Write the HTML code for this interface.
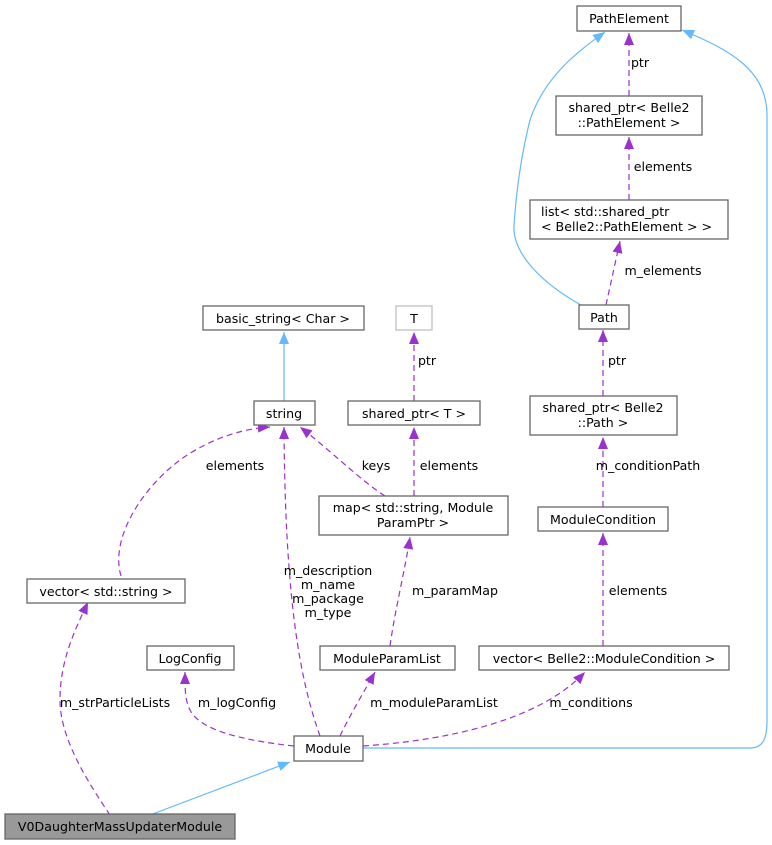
<!DOCTYPE html>
<html><head><meta charset="utf-8"><style>
html,body{margin:0;padding:0;background:#fff;}
svg{display:block;}
text{font-family:"DejaVu Sans","Liberation Sans",sans-serif;font-size:12.6px;fill:#000;}
.n{fill:#fff;stroke:#666;stroke-width:1.3;}
.p{fill:none;stroke:#9a32cd;stroke-width:1.2;stroke-dasharray:6,4;}
.b{fill:none;stroke:#63b8ff;stroke-width:1.2;}
</style></head><body>
<svg width="772" height="845" viewBox="0 0 772 845" xmlns="http://www.w3.org/2000/svg">
<defs>
<marker id="ap" viewBox="0 0 12 10" refX="12" refY="5" markerWidth="12" markerHeight="10" markerUnits="userSpaceOnUse" orient="auto"><path d="M0,0 L12,5 L0,10 z" fill="#9a32cd"/></marker>
<marker id="ab" viewBox="0 0 12 10" refX="12" refY="5" markerWidth="12" markerHeight="10" markerUnits="userSpaceOnUse" orient="auto"><path d="M0,0 L12,5 L0,10 z" fill="#63b8ff"/></marker>
</defs>

<!-- edges -->
<path class="b" marker-end="url(#ab)" d="M150,815 L290,762"/>
<path class="p" marker-end="url(#ap)" d="M110,815 C90,785 60,740 60,700 C60,660 75,630 88,602"/>
<path class="p" marker-end="url(#ap)" d="M294,746 C240,740 200,730 190,710 C185,700 185,690 185,672"/>
<path class="p" marker-end="url(#ap)" d="M320,736 C300,680 285,600 284,427"/>
<path class="p" marker-end="url(#ap)" d="M340,736 C350,715 365,690 375,672"/>
<path class="p" marker-end="url(#ap)" d="M363,746 C450,740 540,720 585,672"/>
<path class="b" marker-end="url(#ab)" d="M363,748 L750,748 C765,748 767,735 767,720 L767,115 C767,70 730,50 682,30"/>
<path class="p" marker-end="url(#ap)" d="M390,646 C395,610 405,570 410,537"/>
<path class="p" marker-end="url(#ap)" d="M385,496 C360,480 330,450 300,427"/>
<path class="p" marker-end="url(#ap)" d="M414,496 L414,427"/>
<path class="p" marker-end="url(#ap)" d="M414,401 L414,332"/>
<path class="b" marker-end="url(#ab)" d="M284,401 L284,332"/>
<path class="p" marker-end="url(#ap)" d="M121,576 C110,540 140,490 180,460 C215,435 250,428 270,427"/>
<path class="p" marker-end="url(#ap)" d="M603,646 L603,533"/>
<path class="p" marker-end="url(#ap)" d="M603,507 L603,437"/>
<path class="p" marker-end="url(#ap)" d="M603,396 L603,330"/>
<path class="p" marker-end="url(#ap)" d="M606,305 L620,241"/>
<path class="p" marker-end="url(#ap)" d="M629,200 L629,137"/>
<path class="p" marker-end="url(#ap)" d="M629,96 L629,33"/>
<path class="b" marker-end="url(#ab)" d="M581,305 C545,285 512,255 514,225 C516,195 520,160 530,120 C545,75 580,50 605,32"/>

<!-- edge labels -->
<text x="115" y="707" text-anchor="middle">m_strParticleLists</text>
<text x="237" y="707" text-anchor="middle">m_logConfig</text>
<text x="328" y="575" text-anchor="middle">m_description</text>
<text x="328" y="589" text-anchor="middle">m_name</text>
<text x="328" y="603" text-anchor="middle">m_package</text>
<text x="328" y="617" text-anchor="middle">m_type</text>
<text x="434" y="707" text-anchor="middle">m_moduleParamList</text>
<text x="591" y="707" text-anchor="middle">m_conditions</text>
<text x="455" y="595" text-anchor="middle">m_paramMap</text>
<text x="376" y="470" text-anchor="middle">keys</text>
<text x="449" y="470" text-anchor="middle">elements</text>
<text x="427" y="365" text-anchor="middle">ptr</text>
<text x="235" y="470" text-anchor="middle">elements</text>
<text x="638" y="595" text-anchor="middle">elements</text>
<text x="648" y="470" text-anchor="middle">m_conditionPath</text>
<text x="617" y="365" text-anchor="middle">ptr</text>
<text x="663" y="275" text-anchor="middle">m_elements</text>
<text x="663" y="171" text-anchor="middle">elements</text>
<text x="640" y="67" text-anchor="middle">ptr</text>

<!-- nodes -->
<rect class="n" x="577" y="6" width="104" height="25"/><text x="629" y="23" text-anchor="middle">PathElement</text>
<rect class="n" x="556" y="96" width="146" height="39"/><text x="629" y="112" text-anchor="middle">shared_ptr&lt; Belle2</text><text x="629" y="127" text-anchor="middle">::PathElement &gt;</text>
<rect class="n" x="530" y="200" width="198" height="39"/><text x="541" y="216">list&lt; std::shared_ptr</text><text x="541" y="231">&lt; Belle2::PathElement &gt; &gt;</text>
<rect class="n" x="579" y="305" width="50" height="24"/><text x="604" y="322" text-anchor="middle">Path</text>
<rect class="n" x="530" y="396" width="147" height="39"/><text x="603" y="412" text-anchor="middle">shared_ptr&lt; Belle2</text><text x="603" y="427" text-anchor="middle">::Path &gt;</text>
<rect class="n" x="538" y="507" width="130" height="24"/><text x="603" y="524" text-anchor="middle">ModuleCondition</text>
<rect class="n" x="479" y="646" width="250" height="24"/><text x="604" y="663" text-anchor="middle">vector&lt; Belle2::ModuleCondition &gt;</text>
<rect class="n" x="203" y="306" width="161" height="24"/><text x="283" y="323" text-anchor="middle">basic_string&lt; Char &gt;</text>
<rect x="396" y="306" width="36" height="24" fill="#fff" stroke="#bfbfbf" stroke-width="1.3"/><text x="414" y="323" text-anchor="middle">T</text>
<rect class="n" x="254" y="401" width="61" height="24"/><text x="284" y="418" text-anchor="middle">string</text>
<rect class="n" x="348" y="401" width="132" height="24"/><text x="414" y="418" text-anchor="middle">shared_ptr&lt; T &gt;</text>
<rect class="n" x="319" y="496" width="189" height="39"/><text x="413" y="512" text-anchor="middle">map&lt; std::string, Module</text><text x="413" y="527" text-anchor="middle">ParamPtr &gt;</text>
<rect class="n" x="27" y="579" width="158" height="24"/><text x="106" y="596" text-anchor="middle">vector&lt; std::string &gt;</text>
<rect class="n" x="147" y="646" width="87" height="24"/><text x="190" y="663" text-anchor="middle">LogConfig</text>
<rect class="n" x="320" y="646" width="135" height="24"/><text x="387" y="663" text-anchor="middle">ModuleParamList</text>
<rect class="n" x="294" y="736" width="69" height="25"/><text x="328" y="753" text-anchor="middle">Module</text>
<rect x="5" y="814" width="230" height="25" fill="#999" stroke="#666" stroke-width="1.3"/><text x="120" y="831" text-anchor="middle">V0DaughterMassUpdaterModule</text>
</svg>
</body></html>
